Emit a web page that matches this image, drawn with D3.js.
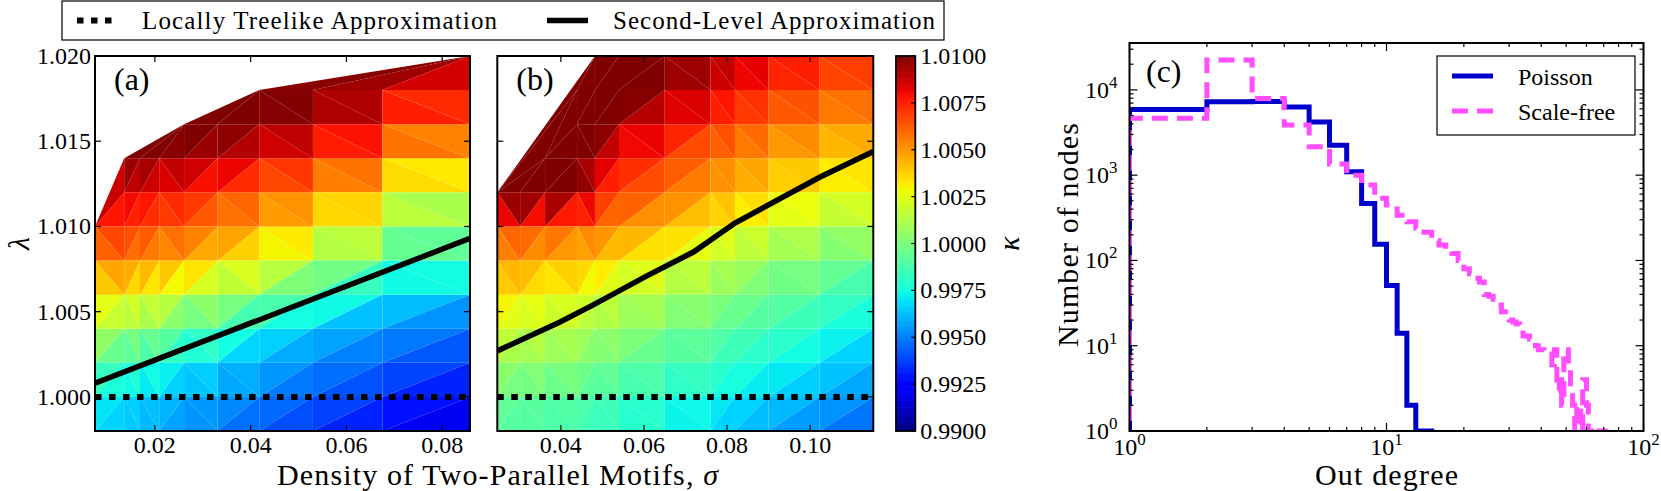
<!DOCTYPE html>
<html><head><meta charset="utf-8">
<script src="https://cdn.jsdelivr.net/npm/d3@7"></script>
<style>
body{margin:0;background:#fff;}
svg text{font-family:"Liberation Serif","LiberationSerif","Times New Roman",Times,"DejaVu Serif",serif;fill:#000;}
</style></head>
<body><svg id="chart" width="1661" height="491" font-family="Liberation Serif, DejaVu Serif, serif"></svg>
<script>
// ---------------- DATA ----------------
const lambdaGrid = [0.998,1.000,1.002,1.004,1.006,1.008,1.010,1.012,1.014,1.016,1.018,1.020];

const sigmaA = [0.0075,0.0136,0.0169,0.0209,0.0261,0.0331,0.0418,0.0530,0.0675,0.0858];
const kappaA = [
 [0.9967,0.9963,0.9960,0.9957,0.9953,0.9948,0.9942,0.9935,0.9925,0.9912],
 [0.9974,0.9970,0.9967,0.9964,0.9961,0.9956,0.9951,0.9944,0.9935,0.9924],
 [0.9990,0.9986,0.9982,0.9978,0.9974,0.9967,0.9960,0.9952,0.9944,0.9936],
 [1.0015,1.0010,1.0006,1.0001,0.9994,0.9984,0.9974,0.9964,0.9955,0.9947],
 [1.0032,1.0030,1.0027,1.0024,1.0018,1.0011,1.0002,0.9987,0.9971,0.9960],
 [1.0056,1.0054,1.0052,1.0049,1.0045,1.0038,1.0028,1.0014,0.9992,0.9972],
 [1.0075,1.0072,1.0070,1.0067,1.0063,1.0056,1.0047,1.0036,1.0020,0.9988],
 [null,  1.0085,1.0083,1.0080,1.0076,1.0071,1.0064,1.0053,1.0038,1.0008],
 [null,  1.0102,1.0100,1.0097,1.0093,1.0089,1.0084,1.0075,1.0060,1.0030],
 [null,  null,  null,  null,  1.0105,1.0104,1.0100,1.0093,1.0082,1.0052],
 [null,  null,  null,  null,  null,  null,  1.0104,1.0101,1.0093,1.0074],
 [null,  null,  null,  null,  null,  null,  null,  null,  null,  1.0090]
];

const sigmaB = [0.0247,0.0302,0.0362,0.0439,0.0482,0.0540,0.0650,0.0760,0.0819,0.0900,0.1023,0.1152];
const kappaB = [
 [0.9990,0.9989,0.9987,0.9985,0.9983,0.9980,0.9973,0.9966,0.9962,0.9957,0.9950,0.9942],
 [0.9996,0.9995,0.9993,0.9991,0.9989,0.9986,0.9980,0.9975,0.9971,0.9967,0.9960,0.9952],
 [1.0008,1.0007,1.0005,1.0002,0.9999,0.9996,0.9990,0.9984,0.9980,0.9976,0.9969,0.9961],
 [1.0022,1.0020,1.0017,1.0013,1.0010,1.0006,1.0000,0.9994,0.9990,0.9986,0.9979,0.9970],
 [1.0035,1.0032,1.0029,1.0025,1.0022,1.0018,1.0011,1.0004,1.0001,0.9996,0.9989,0.9980],
 [1.0050,1.0048,1.0046,1.0043,1.0040,1.0034,1.0026,1.0017,1.0013,1.0007,1.0000,0.9993],
 [1.0068,1.0066,1.0064,1.0061,1.0058,1.0053,1.0043,1.0033,1.0028,1.0022,1.0015,1.0009],
 [1.0110,1.0110,1.0108,1.0106,1.0078,1.0070,1.0060,1.0050,1.0044,1.0038,1.0030,1.0025],
 [null,  null,  1.0110,1.0108,1.0092,1.0078,1.0068,1.0058,1.0054,1.0048,1.0040,1.0035],
 [null,  null,  null,  1.0110,1.0106,1.0095,1.0082,1.0073,1.0068,1.0062,1.0055,1.0048],
 [null,  null,  null,  1.0112,1.0110,1.0106,1.0095,1.0085,1.0080,1.0073,1.0066,1.0060],
 [null,  null,  null,  null,  1.0112,1.0110,1.0105,1.0095,1.0090,1.0084,1.0077,1.0070]
];

const treelikeLambda = 1.000;
const secondSigmaA  = [0.0075, 0.0858];
const secondLambdaA = [1.0008, 1.0093];
const secondSigmaB  = [0.0247, 0.0398, 0.0478, 0.0607, 0.0719, 0.0819, 0.1024, 0.1152];
const secondLambdaB = [1.0027, 1.0044, 1.0054, 1.0071, 1.0085, 1.0102, 1.0129, 1.0144];

const xTicksA = [0.02,0.04,0.06,0.08];
const xTicksB = [0.04,0.06,0.08,0.10];
const yTicks  = [1.000,1.005,1.010,1.015,1.020];
const cbTicks = [0.9900,0.9925,0.9950,0.9975,1.0000,1.0025,1.0050,1.0075,1.0100];
const kappaMin = 0.99, kappaMax = 1.01;

// histogram (c): bins [k, k+1)
const poissonStart = 1;
const poissonCounts = [5900,7250,7300,6300,4200,2250,1100,467,155,51,14,2,1,1];
const scaleFreeStart = 1;
const scaleFreeCounts = [4640,22400,7950,3870,2150,1350,1000,765,535,446,
 340,284,240,214,170,152,135,121,100,80,
 70,62,56,40,38,35,30,25,22,20,
 19,18,16,13,13,12,11,10,9,9,
 8,8,8,6,9,3,4,2,7,9,
 6,3,2,1,2,2,1,4,4,2,
 1,1,0,1,1,0,1,1,1,1,
 0,1,1,1];
const degTicks = [1,10,100];
const countTicks = [1,10,100,1000,10000];

// ---------------- HELPERS ----------------
const FONT = "'Liberation Serif', 'DejaVu Serif', serif";
const svg = d3.select('#chart');
const FS = 24;
function T(sel){ return sel.append('text').style('font-family', FONT); }
function jet(t){
  t = Math.max(0, Math.min(1, t));
  const seg = pts => { for (let i=1;i<pts.length;i++){ if (t<=pts[i][0]){ const [x0,y0]=pts[i-1],[x1,y1]=pts[i]; return y0+(y1-y0)*(t-x0)/(x1-x0);} } return pts[pts.length-1][1]; };
  const r = seg([[0,0],[0.35,0],[0.66,1],[0.89,1],[1,0.5]]);
  const g = seg([[0,0],[0.125,0],[0.375,1],[0.64,1],[0.91,0],[1,0]]);
  const b = seg([[0,0.5],[0.11,1],[0.34,1],[0.65,0],[1,0]]);
  return d3.rgb(r*255, g*255, b*255).formatHex();
}
const norm = d3.scaleLinear().domain([kappaMin,kappaMax]).range([0,1]).clamp(true);

const defs = svg.append('defs');
function clip(id, x0, y0, x1, y1){
  defs.append('clipPath').attr('id', id).append('rect')
    .attr('x', x0).attr('y', y0).attr('width', x1-x0).attr('height', y1-y0);
}

function tripcolor(g, sig, lam, kap, x, y){
  const pts = [];
  lam.forEach((l,i) => sig.forEach((s,j) => { const v = kap[i][j]; if (v !== null) pts.push([s,l,v]); }));
  const del = d3.Delaunay.from(pts, p => p[0]*1000, p => (p[1]-1)*1000);
  const tr = del.triangles, tris = [];
  for (let i=0;i<tr.length;i+=3){
    const a=pts[tr[i]], b=pts[tr[i+1]], c=pts[tr[i+2]];
    tris.push({p:[a,b,c], v:(a[2]+b[2]+c[2])/3});
  }
  g.selectAll(null).data(tris).join('path')
    .attr('d', d => 'M' + d.p.map(p => x(p[0]).toFixed(2)+','+y(p[1]).toFixed(2)).join('L') + 'Z')
    .attr('fill', d => jet(norm(d.v)));
}

function panelAB(sig, kap, x0, x1, xticks, secS, secL, showY, label, cid){
  const x = d3.scaleLinear().domain(d3.extent(sig)).range([x0, x1]);
  const y = d3.scaleLinear().domain(d3.extent(lambdaGrid)).range([431, 56]);
  clip(cid, x0, 56, x1, 431);
  const g = svg.append('g');
  const inner = g.append('g').attr('clip-path', `url(#${cid})`);
  tripcolor(inner, sig, lambdaGrid, kap, x, y);
  inner.append('line').attr('x1', x0).attr('x2', x1)
    .attr('y1', y(treelikeLambda)).attr('y2', y(treelikeLambda))
    .attr('stroke', '#000').attr('stroke-width', 6).attr('stroke-dasharray', '6.5,7.5');
  inner.append('path').datum(secS.map((s,i) => [s, secL[i]]))
    .attr('d', d3.line().x(d => x(d[0])).y(d => y(d[1])))
    .attr('fill', 'none').attr('stroke', '#000').attr('stroke-width', 5.5);
  g.append('rect').attr('x', x0).attr('y', 56).attr('width', x1-x0).attr('height', 375)
    .attr('fill', 'none').attr('stroke', '#000').attr('stroke-width', 2);
  xticks.forEach(v => {
    const px = x(v);
    g.append('line').attr('x1', px).attr('x2', px).attr('y1', 431).attr('y2', 425).attr('stroke', '#000').attr('stroke-width', 1.2);
    g.append('line').attr('x1', px).attr('x2', px).attr('y1', 56).attr('y2', 62).attr('stroke', '#000').attr('stroke-width', 1.2);
    T(g).attr('x', px).attr('y', 453).attr('text-anchor', 'middle').attr('font-size', FS).text(d3.format('.2f')(v));
  });
  yTicks.forEach(v => {
    const py = y(v);
    g.append('line').attr('x1', x0).attr('x2', x0+6).attr('y1', py).attr('y2', py).attr('stroke', '#000').attr('stroke-width', 1.2);
    g.append('line').attr('x1', x1).attr('x2', x1-6).attr('y1', py).attr('y2', py).attr('stroke', '#000').attr('stroke-width', 1.2);
    if (showY) T(g).attr('x', x0-4).attr('y', py + 8).attr('text-anchor', 'end').attr('font-size', FS).text(d3.format('.3f')(v));
  });
  T(g).attr('x', x0 + 19).attr('y', 90).attr('font-size', 32).text(label);
}

panelAB(sigmaA, kappaA, 95, 470, xTicksA, secondSigmaA, secondLambdaA, true, '(a)', 'clipA');
panelAB(sigmaB, kappaB, 497.3, 873.3, xTicksB, secondSigmaB, secondLambdaB, false, '(b)', 'clipB');

T(svg).attr('transform', 'translate(29,243.5) rotate(-90)')
  .attr('text-anchor', 'middle').attr('font-size', 30).attr('font-style', 'italic').text('λ');

const xl = T(svg).attr('x', 277).attr('y', 485).attr('font-size', 30)
  .attr('textLength', 441).attr('lengthAdjust', 'spacing');
xl.append('tspan').text('Density of Two-Parallel Motifs, ');
xl.append('tspan').attr('font-style', 'italic').text('σ');

// ---------------- COLORBAR ----------------
const cbx0 = 896, cbx1 = 915.3;
const cy = d3.scaleLinear().domain([kappaMin, kappaMax]).range([431, 56]);
const nSteps = 160;
const cbg = svg.append('g');
cbg.selectAll(null).data(d3.range(nSteps)).join('rect')
  .attr('x', cbx0).attr('width', cbx1-cbx0)
  .attr('y', i => cy(kappaMin + (i+1)*(kappaMax-kappaMin)/nSteps) - 0.3)
  .attr('height', i => cy(kappaMin + i*(kappaMax-kappaMin)/nSteps) - cy(kappaMin + (i+1)*(kappaMax-kappaMin)/nSteps) + 0.6)
  .attr('fill', i => jet((i+0.5)/nSteps));
cbg.append('rect').attr('x', cbx0).attr('y', 56).attr('width', cbx1-cbx0).attr('height', 375)
  .attr('fill', 'none').attr('stroke', '#000').attr('stroke-width', 1.8);
cbTicks.forEach(v => {
  const py = cy(v);
  cbg.append('line').attr('x1', cbx1).attr('x2', cbx1-4).attr('y1', py).attr('y2', py).attr('stroke', '#000').attr('stroke-width', 1.2);
  T(cbg).attr('x', cbx1 + 5).attr('y', py + 8).attr('font-size', FS).text(d3.format('.4f')(v));
});
T(svg).attr('transform', 'translate(1019,243.5) rotate(-90)')
  .attr('text-anchor', 'middle').attr('font-size', 30).attr('font-style', 'italic').text('κ');

// ---------------- TOP LEGEND ----------------
const lg = svg.append('g');
lg.append('rect').attr('x', 62).attr('y', 1).attr('width', 882).attr('height', 39)
  .attr('fill', '#fff').attr('stroke', '#000').attr('stroke-width', 1.2);
lg.append('line').attr('x1', 77).attr('x2', 112).attr('y1', 20.5).attr('y2', 20.5)
  .attr('stroke', '#000').attr('stroke-width', 6).attr('stroke-dasharray', '6.5,7.5');
T(lg).attr('x', 142).attr('y', 29).attr('font-size', 25)
  .attr('textLength', 355).attr('lengthAdjust', 'spacing').text('Locally Treelike Approximation');
lg.append('line').attr('x1', 547).attr('x2', 588).attr('y1', 20.5).attr('y2', 20.5)
  .attr('stroke', '#000').attr('stroke-width', 5.5);
T(lg).attr('x', 613).attr('y', 29).attr('font-size', 25)
  .attr('textLength', 322).attr('lengthAdjust', 'spacing').text('Second-Level Approximation');

// ---------------- PANEL (c) ----------------
const cx0 = 1129.5, cx1 = 1643.5, cyTop = 43, cyBot = 431;
const xc = d3.scaleLog().domain([1, 100]).range([cx0, cx1]);
const yc = d3.scaleLog().domain([1, Math.pow(10, 4.55)]).range([cyBot, cyTop]);
clip('clipC', cx0, cyTop, cx1, cyBot);
const gc = svg.append('g');
const gci = gc.append('g').attr('clip-path', 'url(#clipC)');

function stepPoints(start, counts){
  const yv = c => c > 0 ? yc(c) : cyBot + 40;
  const pts = [[xc(start), cyBot + 40]];
  counts.forEach((c, i) => {
    pts.push([xc(start + i), yv(c)]);
    pts.push([xc(start + i + 1), yv(c)]);
  });
  pts.push([xc(start + counts.length), cyBot + 40]);
  return pts;
}
gci.append('path').datum(stepPoints(poissonStart, poissonCounts))
  .attr('d', d3.line()).attr('fill', 'none').attr('stroke', '#0000cc').attr('stroke-width', 5);
gci.append('path').datum(stepPoints(scaleFreeStart, scaleFreeCounts))
  .attr('d', d3.line()).attr('fill', 'none').attr('stroke', '#ff4dff').attr('stroke-width', 5)
  .attr('stroke-dasharray', '16,9');

gc.append('rect').attr('x', cx0).attr('y', cyTop).attr('width', cx1-cx0).attr('height', cyBot-cyTop)
  .attr('fill', 'none').attr('stroke', '#000').attr('stroke-width', 2);

const minorX = [];
[1,10].forEach(d => { for (let k=2;k<=9;k++) minorX.push(d*k); });
const minorY = [];
[1,10,100,1000,10000].forEach(d => { for (let k=2;k<=9;k++) if (d*k <= yc.domain()[1]) minorY.push(d*k); });
function tl(x1,y1,x2,y2){ gc.append('line').attr('x1',x1).attr('y1',y1).attr('x2',x2).attr('y2',y2).attr('stroke','#000').attr('stroke-width',1.2); }
minorX.forEach(v => { const px = xc(v); tl(px,cyBot,px,cyBot-4); tl(px,cyTop,px,cyTop+4); });
minorY.forEach(v => { const py = yc(v); tl(cx0,py,cx0+4,py); tl(cx1,py,cx1-4,py); });
degTicks.forEach(v => {
  const px = xc(v); tl(px,cyBot,px,cyBot-8); tl(px,cyTop,px,cyTop+8);
  const t = T(gc).attr('x', px).attr('y', 455).attr('text-anchor','middle').attr('font-size', FS);
  t.append('tspan').text('10');
  t.append('tspan').attr('dy', -10).attr('font-size', 17).text(Math.round(Math.log10(v)));
});
countTicks.forEach(v => {
  const py = yc(v); tl(cx0,py,cx0+8,py); tl(cx1,py,cx1-8,py);
  const t = T(gc).attr('x', cx0 - 12).attr('y', py + 8).attr('text-anchor','end').attr('font-size', FS);
  t.append('tspan').text('10');
  t.append('tspan').attr('dy', -10).attr('font-size', 17).text(Math.round(Math.log10(v)));
});
T(gc).attr('x', 1146).attr('y', 82).attr('font-size', 32).text('(c)');

gc.append('rect').attr('x', 1437).attr('y', 56).attr('width', 198).attr('height', 79)
  .attr('fill', '#fff').attr('stroke', '#000').attr('stroke-width', 1.2);
gc.append('line').attr('x1', 1452).attr('x2', 1493).attr('y1', 76).attr('y2', 76)
  .attr('stroke', '#0000cc').attr('stroke-width', 5);
T(gc).attr('x', 1518).attr('y', 85).attr('font-size', FS).text('Poisson');
gc.append('line').attr('x1', 1452).attr('x2', 1493).attr('y1', 111).attr('y2', 111)
  .attr('stroke', '#ff4dff').attr('stroke-width', 5).attr('stroke-dasharray', '16,9');
T(gc).attr('x', 1518).attr('y', 120).attr('font-size', FS).text('Scale-free');

T(gc).attr('x', (cx0+cx1)/2).attr('y', 485).attr('text-anchor','middle').attr('font-size', 30)
  .attr('textLength', 143).attr('lengthAdjust','spacing').text('Out degree');
T(gc).attr('transform', 'translate(1078,235) rotate(-90)').attr('text-anchor','middle')
  .attr('font-size', 30).attr('textLength', 224).attr('lengthAdjust','spacing').text('Number of nodes');
</script>
</body></html>
